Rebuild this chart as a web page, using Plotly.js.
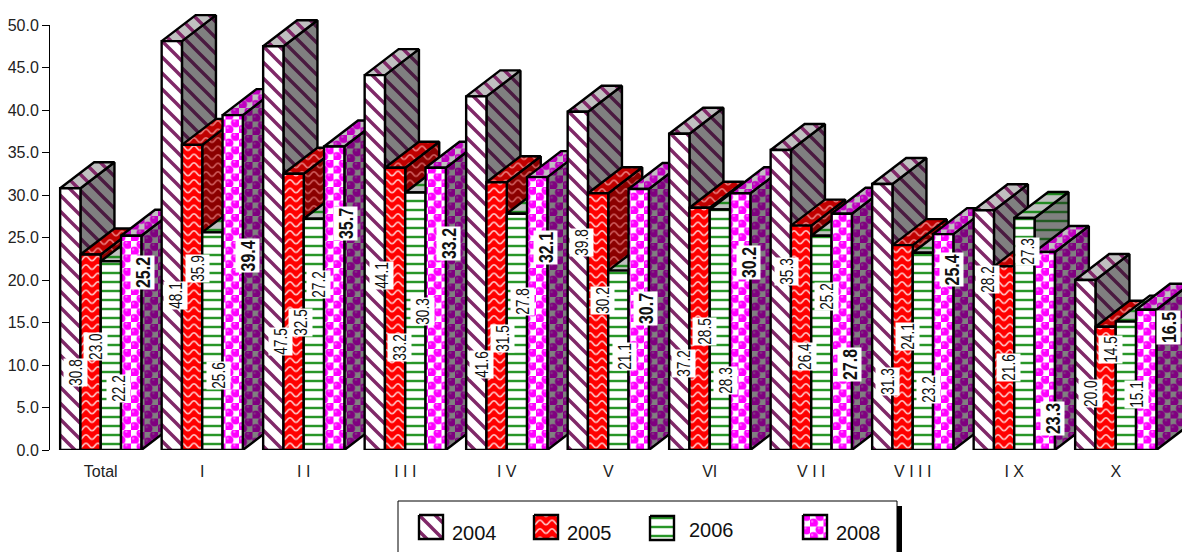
<!DOCTYPE html>
<html>
<head>
<meta charset="utf-8">
<script src="https://cdn.plot.ly/plotly-3.0.1.min.js"></script>
<style>html,body{margin:0;padding:0;background:#fff;overflow:hidden}#chart{width:1182px;height:552px}</style>
</head>
<body>
<div id="chart"></div>
<script>
var categories = ['Total','I','I I','I I I','I V','V','VI','V I I','V I I I','I X','X'];
var seriesNames = ['2004','2005','2006','2008'];
var s2004 = [30.8,48.1,47.5,44.1,41.6,39.8,37.2,35.3,31.3,28.2,20.0];
var s2005 = [23.0,35.9,32.5,33.2,31.5,30.2,28.5,26.4,24.1,21.6,14.5];
var s2006 = [22.2,25.6,27.2,30.3,27.8,21.1,28.3,25.2,23.2,27.3,15.1];
var s2008 = [25.2,39.4,35.7,33.2,32.1,30.7,30.2,27.8,25.4,23.3,16.5];

// value-label centres, in page pixels
var labelX2004 = [75,175,280,381,481,581,683,786,887,987,1090];
var labelY2004 = [373,296,342,276,365,243,364,272,382,280,394];
var labelX2005 = [95,197,300,399,502,602,704,804,907,1008,1110];
var labelY2005 = [347,269,323,348,339,301,332,357,336,368,350];
var labelX2006 = [118,218,318,422,522,624,725,827,928,1027,1136];
var labelY2006 = [389,376,284,312,302,357,381,297,389,252,395];
var labelX2008 = [142,247,345,449,545,645,748,849,951,1052,1168];
var labelY2008 = [273,256,224,244,248,309,263,365,270,419,328];

var W = 1182, H = 552;
var AX_L = 50, AX_R = 1166.5, AX_T = 25, AX_B = 450;
var CAT_PX = (AX_R - AX_L) / 11, UNIT_PX = (AX_B - AX_T) / 50;
var DEPTH_X = 34 / CAT_PX, DEPTH_Y = 26 / UNIT_PX, BAR_W = 0.2, GROUP_PAD = 0.1;

var values = [s2004, s2005, s2006, s2008];
var labelXs = [labelX2004, labelX2005, labelX2006, labelX2008];
var labelYs = [labelY2004, labelY2005, labelY2006, labelY2008];

// [fg, bg] per series and face. Each pair is a key for the tile patch below.
var roles = {
  front: [['rgb(128,40,104)','rgb(255,255,255)'],['rgb(255,195,195)','rgb(255,0,0)'],['rgb(40,150,40)','rgb(255,255,255)'],['rgb(255,255,255)','rgb(255,0,255)']],
  side:  [['rgb(74,26,64)','rgb(128,128,128)'],['rgb(205,90,90)','rgb(139,0,0)'],['rgb(34,90,34)','rgb(128,128,128)'],['rgb(128,128,128)','rgb(128,0,128)']],
  top:   [['rgb(128,40,104)','rgb(192,192,192)'],['rgb(235,120,120)','rgb(192,0,0)'],['rgb(34,139,34)','rgb(192,192,192)'],['rgb(192,192,192)','rgb(192,0,192)']]
};
function pat(role) { return {shape:'/', fgcolor: role[0], bgcolor: role[1], size: 8, solidity: 0.3}; }

function stripes(fg, bg) {
  return {s:16, h:16, body:'<rect width="16" height="16" fill="'+bg+'"/><path d="M-8,8L8,24M0,0L16,16M8,-8L24,8" stroke="'+fg+'" stroke-width="3.4" fill="none"/>'};
}
function wave(fg, bg) {
  return {s:12, h:8.5, body:'<rect width="12" height="8.5" fill="'+bg+'"/><path d="M-3,4 Q0,-0.5 3,4 T9,4 T15,4" stroke="'+fg+'" stroke-width="1.7" fill="none"/>'};
}
function lines(fg, bg) {
  return {s:9, h:9, body:'<rect width="9" height="9" fill="'+bg+'"/><rect y="3" width="9" height="4" fill="'+fg+'" opacity="0.22"/><rect y="4" width="9" height="2" fill="'+fg+'"/>'};
}
function bubbles(fg, bg) {
  var t = 13.5, q = t / 4, c = '';
  [[3*q,q],[q,3*q]].forEach(function(p) {
    c += '<circle cx="'+p[0]+'" cy="'+p[1]+'" r="4.7" fill="'+bg+'"/><circle cx="'+(p[0]-1.2)+'" cy="'+(p[1]-1.6)+'" r="1.2" fill="'+fg+'" opacity="0.45"/>';
  });
  return {s:t, h:t, body:'<rect width="'+t+'" height="'+t+'" fill="'+bg+'"/><rect width="'+t/2+'" height="'+t/2+'" fill="'+fg+'"/><rect x="'+t/2+'" y="'+t/2+'" width="'+t/2+'" height="'+t/2+'" fill="'+fg+'"/>'+c};
}
var makers = [stripes, wave, lines, bubbles];

var data = [];
var annotations = [];
function poly(xs, ys, role, xa, ya) {
  return {type:'scatter', mode:'lines', x:xs, y:ys, xaxis:xa||'x', yaxis:ya||'y', fill:'toself',
    fillcolor: role[1], fillpattern: pat(role), line:{color:'#000', width:2.4, simplify:false},
    hoverinfo:'skip', showlegend:false};
}

// depth faces, drawn left to right on a hidden full-height axis pair
categories.forEach(function(c, k) {
  values.forEach(function(v, s) {
    var r = k + GROUP_PAD + (s + 1) * BAR_W, l = r - BAR_W, h = v[k];
    data.push(poly([r, r+DEPTH_X, r+DEPTH_X, r, r], [0, DEPTH_Y, h+DEPTH_Y, h, 0], roles.side[s]));
    data.push(poly([l, l+DEPTH_X, r+DEPTH_X, r, l], [h, h+DEPTH_Y, h+DEPTH_Y, h, h], roles.top[s]));
  });
});

// front faces: real bars on the visible category axis, layered above the depth faces
values.forEach(function(v, s) {
  data.push({type:'bar', name:seriesNames[s], x:categories, y:v, xaxis:'x2', yaxis:'y2',
    marker:{color:roles.front[s][1], pattern:pat(roles.front[s]), line:{color:'#000', width:2.4}},
    hoverinfo:'x+y+name', showlegend:false});
});

// legend swatches on a page-sized hidden axis pair
var swatchLeft = [419, 534, 650, 803];
var swatchTop = [515, 515, 516, 515];
var legendTextX = [474, 589, 711, 858];
var legendTextY = [533, 533, 530, 533];
seriesNames.forEach(function(n, s) {
  var x = swatchLeft[s], y = swatchTop[s], d = 24;
  data.push(poly([x, x+d, x+d, x, x], [y, y, y+d, y+d, y], roles.front[s], 'x3', 'y3'));
  annotations.push({xref:'paper', yref:'paper', x:legendTextX[s]/W, y:1-legendTextY[s]/H, text:n, showarrow:false,
    xanchor:'center', yanchor:'middle', font:{family:'Liberation Sans, Arial, sans-serif', size:20, color:'#111'}});
});

// value labels
values.forEach(function(v, s) {
  v.forEach(function(val, k) {
    var bold = s === 3;
    annotations.push({xref:'paper', yref:'paper', x:labelXs[s][k]/W, y:1-labelYs[s][k]/H,
      text: val.toFixed(1), textangle:-90, showarrow:false,
      xanchor:'center', yanchor:'middle', bgcolor:'#fff', borderpad:0,
      width: bold ? 33 : 27, height: 23, align:'center', valign:'middle',
      font:{family:'Liberation Sans, Arial, sans-serif', size: bold ? 20 : 17.5, weight: bold ? 700 : 400, color:'#111'}});
  });
});

var tickFont = {family:'Liberation Sans, Arial, sans-serif', size:16, color:'#222'};
var layout = {
  width:W, height:H, margin:{l:0,r:0,t:0,b:0,pad:0}, paper_bgcolor:'#fff', plot_bgcolor:'rgba(0,0,0,0)',
  showlegend:false, barmode:'group', bargap:0.2, bargroupgap:0, hovermode:'closest',
  xaxis:{domain:[AX_L/W, 1], range:[0,(W-AX_L)/CAT_PX], visible:false, fixedrange:true, anchor:'y'},
  yaxis:{domain:[1-AX_B/H, 1], range:[0,AX_B/UNIT_PX], visible:false, fixedrange:true, anchor:'x'},
  xaxis2:{domain:[AX_L/W, AX_R/W], anchor:'y2', type:'category', range:[-0.5,10.5], categoryorder:'array', categoryarray:categories,
    showline:false, showgrid:false, zeroline:false, ticks:'outside', ticklen:7, tickcolor:'rgba(0,0,0,0)', tickfont:tickFont, fixedrange:true},
  yaxis2:{domain:[1-AX_B/H, 1-AX_T/H], anchor:'x2', range:[0,50], tick0:0, dtick:5, tickformat:'.1f', ticks:'outside', ticklen:7, tickwidth:1, tickcolor:'#000',
    showline:true, linecolor:'#000', linewidth:1, showgrid:false, zeroline:false, tickfont:tickFont, fixedrange:true},
  xaxis3:{domain:[0,1], range:[0,W], visible:false, anchor:'y3', fixedrange:true},
  yaxis3:{domain:[0,1], range:[H,0], visible:false, anchor:'x3', fixedrange:true},
  shapes:[
    {type:'rect', xref:'paper', yref:'paper', x0:398/W, x1:897/W, y0:-0.02, y1:1-501/H, fillcolor:'#fff', line:{color:'#000', width:1}, layer:'below'},
    {type:'rect', xref:'paper', yref:'paper', x0:897/W, x1:902/W, y0:-0.02, y1:1-506/H, fillcolor:'#000', line:{width:0}, layer:'below'}
  ],
  annotations:annotations
};

function norm(c){ return String(c).replace(/\s+/g,''); }
var gd = document.getElementById('chart');
Plotly.newPlot(gd, data, layout, {displayModeBar:false, responsive:false}).then(function() {
  var map = {};
  ['front','side','top'].forEach(function(face) {
    roles[face].forEach(function(r, s) { map[norm(r[0])+'|'+norm(r[1])] = makers[s](r[0], r[1]); });
  });
  gd.querySelectorAll('pattern').forEach(function(p) {
    var bg = p.querySelector('rect'), fg = p.querySelector('path');
    if (!bg || !fg) return;
    var t = map[norm(fg.getAttribute('stroke'))+'|'+norm(bg.getAttribute('fill'))];
    if (!t) return;
    p.setAttribute('width', t.s); p.setAttribute('height', t.h);
    p.innerHTML = t.body;
  });
  // the reference's value labels are condensed: compress their glyphs along the reading direction
  gd.querySelectorAll('.annotation-text').forEach(function(t) {
    if (!/^\d+\.\d$/.test(t.textContent)) return;
    t.setAttribute('textLength', parseFloat(t.style.fontSize) > 18 ? 31 : 26.5);
    t.setAttribute('lengthAdjust', 'spacingAndGlyphs');
  });
});
</script>
</body>
</html>
